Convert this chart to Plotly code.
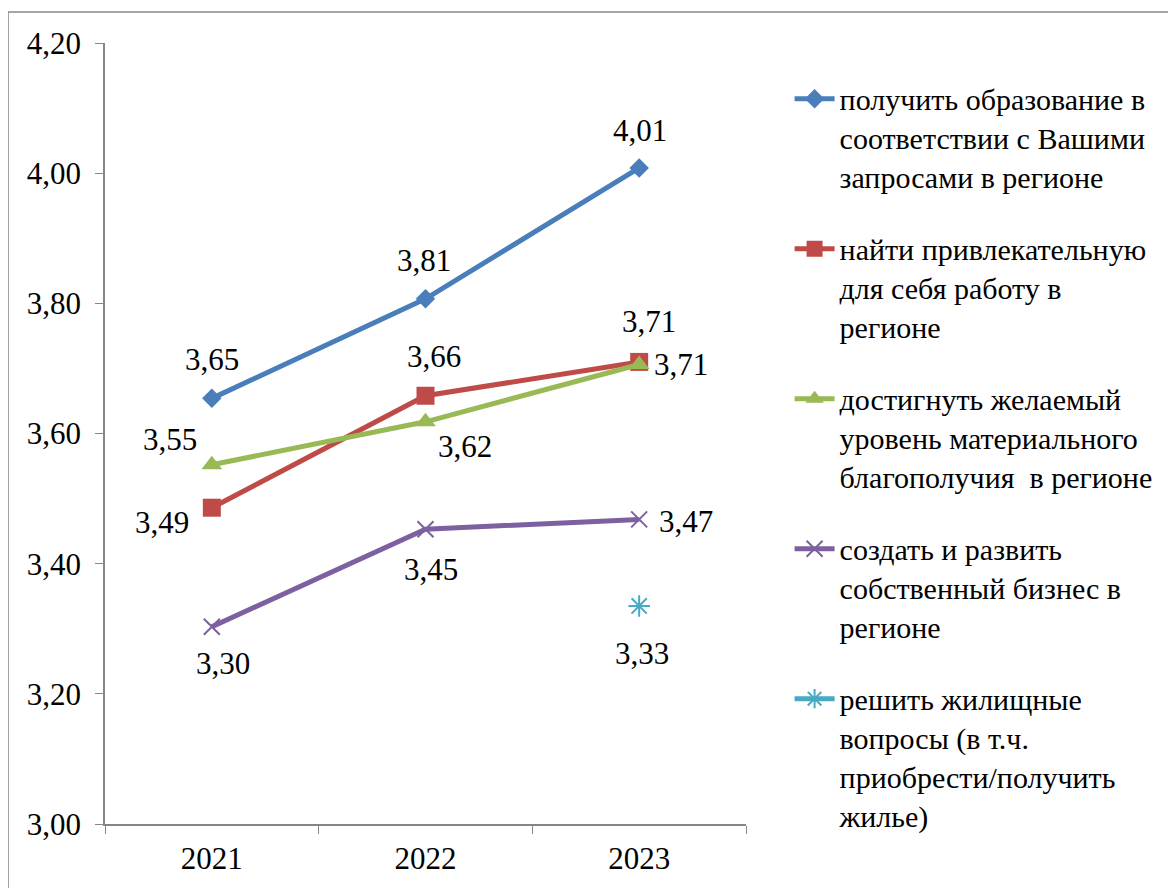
import plotly.graph_objects as go

years = ["2021", "2022", "2023"]
names = [
    "получить образование в<br>соответствии с Вашими<br>запросами в регионе",
    "найти привлекательную<br>для себя работу в<br>регионе",
    "достигнуть желаемый<br>уровень материального<br>благополучия  в регионе",
    "создать и развить<br>собственный бизнес в<br>регионе",
    "решить жилищные<br>вопросы (в т.ч.<br>приобрести/получить<br>жилье)",
]
edu = [3.654, 3.807, 4.008]
work = [3.486, 3.658, 3.710]
wealth = [3.552, 3.618, 3.706]
business = [3.303, 3.453, 3.468]
housing = [None, None, 3.335]
y_ticks = [3.00, 3.20, 3.40, 3.60, 3.80, 4.00, 4.20]

FONT = "Liberation Serif"
FS = 31
LFS = 30

series = [edu, work, wealth, business, housing]
colors = ["#4A7EBB", "#BE4B48", "#98B954", "#7D60A0", "#46AAC5"]
symbols = ["diamond", "square", "triangle-up", "x-thin", "asterisk"]
msizes = [15, 18, 18, 16, 18]

offsets = [
    [(0, 39), (-2, 38), (1, 37)],
    [(-50, -15), (8, 39), (10, 40)],
    [(-42, 25), (39, -25), (42, 0)],
    [(11, -37), (5, -40), (47, -2)],
    [None, None, (3, -48)],
]

fig = go.Figure()
annotations = []
for i, (vals, name) in enumerate(zip(series, names)):
    sym = symbols[i]
    marker = dict(symbol=sym, size=msizes[i], color=colors[i])
    if sym in ("x-thin", "asterisk"):
        marker["line"] = dict(color=colors[i], width=2)
    fig.add_trace(go.Scatter(
        x=years, y=vals, name=name, mode="lines+markers",
        legendgroup=f"g{i}",
        line=dict(color=colors[i], width=5),
        marker=marker,
    ))
    for j, v in enumerate(vals):
        if v is None:
            continue
        dx, dy = offsets[i][j]
        annotations.append(dict(
            x=j, y=v, xref="x", yref="y",
            text=f"{v:.2f}".replace(".", ","), showarrow=False,
            xshift=dx, yshift=dy,
            font=dict(family=FONT, size=FS, color="#000000"),
        ))

fig.update_layout(
    width=1176, height=888,
    margin=dict(l=97, r=438, t=35, b=72),
    paper_bgcolor="white", plot_bgcolor="white",
    font=dict(family=FONT, size=FS, color="#000000"),
    showlegend=True,
    legend=dict(
        x=1.068, y=0.962, xanchor="left", yanchor="top",
        font=dict(family=FONT, size=LFS, color="#000000"),
        valign="top", tracegroupgap=30, itemwidth=40,
        bgcolor="rgba(0,0,0,0)",
    ),
    annotations=annotations,
    shapes=[dict(
        type="rect", xref="paper", yref="paper",
        x0=-0.1513, x1=1.8, y0=-0.2, y1=1.0397,
        line=dict(color="#888888", width=1.5), fillcolor="rgba(0,0,0,0)",
        layer="below",
    )],
)
fig.update_xaxes(
    type="category", range=[-0.5, 2.5],
    showline=True, linecolor="#868686", linewidth=1.5,
    ticks="outside", tickson="boundaries", ticklen=8, tickcolor="#868686",
    showgrid=False, zeroline=False, ticklabelstandoff=6,
    tickfont=dict(family=FONT, size=FS),
)
fig.update_yaxes(
    range=[3.0, 4.2], tickvals=y_ticks,
    ticktext=[f"{t:.2f}".replace(".", ",") for t in y_ticks],
    showline=True, linecolor="#868686", linewidth=1.5,
    ticks="outside", ticklen=8, tickcolor="#868686",
    showgrid=False, zeroline=False, ticklabelstandoff=8,
    tickfont=dict(family=FONT, size=FS),
)
fig.write_html("out.html")
